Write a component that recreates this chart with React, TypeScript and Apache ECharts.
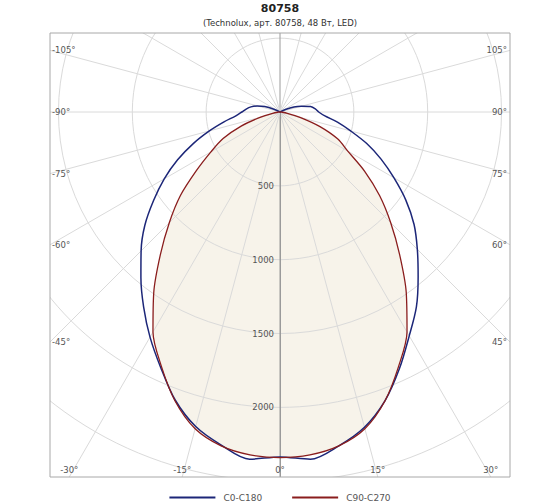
import { useEffect, useRef } from 'react'
import * as echarts from 'echarts'

// углы (градусы) и силы света (кд) по двум плоскостям
const ANGLES = [
  -120, -115, -110, -105, -100, -95, -90, -85, -80, -75, -70, -65, -60, -55, -50, -45, -40, -35, -30, -25, -20, -15, -10, -5,
  0, 5, 10, 15, 20, 25, 30, 35, 40, 45, 50, 55, 60, 65, 70, 75, 80, 85, 90, 95, 100, 105, 110, 115, 120,
]
const C0_C180 = [
  0, 45, 110, 160, 200, 230, 258, 300, 385, 495, 625, 765, 905, 1045, 1195, 1330, 1465, 1610, 1760, 1910, 2075, 2205, 2290, 2360,
  2335, 2360, 2295, 2210, 2080, 1915, 1750, 1610, 1455, 1315, 1185, 1040, 890, 755, 625, 495, 395, 305, 262, 240, 210, 150, 100, 40, 0,
]
const C90_C270 = [
  0, 0, 0, 0, 0, 0, 0, 12, 50, 140, 280, 425, 540, 690, 880, 1060, 1260, 1490, 1720, 1900, 2080, 2220, 2295, 2330,
  2340, 2330, 2295, 2220, 2080, 1900, 1720, 1490, 1260, 1060, 880, 700, 530, 430, 285, 140, 50, 12, 0, 0, 0, 0, 0, 0, 0,
]
const RADIUS_LABELS = [500, 1000, 1500, 2000]
const ANGLE_LABELS = [-105, -90, -75, -60, -45, -30, -15, 0, 15, 30, 45, 60, 75, 90, 105]
const SERIES_NAMES = ['C0-C180', 'C90-C270']

const CX = 280
const CY = 112
const BOX = { left: 50, top: 33, right: 510, bottom: 477 }
const PX_PER_CD = 0.1477
const R_MAX = 3000
const FONT = 'DejaVu Sans'
const LIGHT = '#dadada'
const DARK = '#9a9a9a'

// подпись угла там, где луч упирается в рамку
function angleLabel(a: number) {
  const rad = (a * Math.PI) / 180
  const sx = Math.sin(rad)
  const sy = Math.cos(rad)
  const tx = sx > 0 ? (BOX.right - CX) / sx : sx < 0 ? (BOX.left - CX) / sx : Infinity
  const ty = sy > 0 ? (BOX.bottom - CY) / sy : sy < 0 ? (BOX.top - CY) / sy : Infinity
  const base = { type: 'text', z: 52, silent: true }
  const text = `${a}°`
  const st = { fontSize: 8.5, fontFamily: FONT, fill: '#555' }
  if (ty <= tx) {
    return { ...base, x: CX + ty * sx, y: BOX.bottom - 7, style: { ...st, text, align: 'center', verticalAlign: 'middle' } }
  }
  const y = CY + tx * sy
  if (sx < 0) return { ...base, x: BOX.left + 2, y, style: { ...st, text, align: 'left', verticalAlign: 'middle' } }
  return { ...base, x: BOX.right - 3, y, style: { ...st, text, align: 'right', verticalAlign: 'middle' } }
}

export default function App() {
  const ref = useRef<HTMLDivElement>(null)

  useEffect(() => {
    if (!ref.current) return
    const chart = echarts.init(ref.current, undefined, { renderer: 'svg' })
    const toAxis = (a: number) => (a + 360) % 360
    const blue = ANGLES.map((a, i) => [C0_C180[i], toAxis(a)])
    const red = ANGLES.map((a, i) => [C90_C270[i], toAxis(a)])
    // вертикаль (0° и 180°) темнее остальных лучей
    const rayColors = [DARK, LIGHT, LIGHT, LIGHT, LIGHT, LIGHT, LIGHT, LIGHT, LIGHT, LIGHT, LIGHT, LIGHT]

    const masks = [
      { x: 0, y: 0, width: 560, height: BOX.top },
      { x: 0, y: BOX.bottom, width: 560, height: 504 - BOX.bottom },
      { x: 0, y: BOX.top, width: BOX.left, height: BOX.bottom - BOX.top },
      { x: BOX.right, y: BOX.top, width: 560 - BOX.right, height: BOX.bottom - BOX.top },
    ].map((shape) => ({ type: 'rect', shape, style: { fill: '#fff' }, z: 50, silent: true }))

    chart.setOption({
      animation: false,
      backgroundColor: '#fff',
      title: {
        text: '80758',
        subtext: '(Technolux, арт. 80758, 48 Вт, LED)',
        left: 'center',
        top: -2,
        itemGap: 4,
        textStyle: { fontSize: 11, fontWeight: 'bold', color: '#222', fontFamily: FONT },
        subtextStyle: { fontSize: 8.5, color: '#333', fontFamily: FONT },
        z: 60,
      },
      legend: {
        data: SERIES_NAMES,
        left: 'center',
        bottom: -3,
        icon: 'rect',
        itemWidth: 46,
        itemHeight: 2,
        itemGap: 30,
        textStyle: { fontSize: 9, color: '#555', fontFamily: FONT, padding: [0, 0, 0, 3] },
        z: 60,
      },
      polar: { center: [CX, CY], radius: R_MAX * PX_PER_CD },
      angleAxis: {
        type: 'value',
        min: 0,
        max: 360,
        interval: 15,
        startAngle: 270,
        clockwise: false,
        z: 1,
        axisLine: { show: false },
        axisTick: { show: false },
        axisLabel: { show: false },
        splitLine: { show: true, lineStyle: { color: rayColors, width: 1 } },
      },
      radiusAxis: {
        type: 'value',
        min: 0,
        max: R_MAX,
        interval: 500,
        z: 1,
        axisLine: { show: true, lineStyle: { color: DARK, width: 1 } },
        axisTick: { show: false },
        axisLabel: {
          fontSize: 8.5,
          color: '#555',
          fontFamily: FONT,
          margin: -6,
          align: 'right',
          formatter: (v: number) => (RADIUS_LABELS.includes(v) ? String(v) : ''),
        },
        splitLine: { show: true, lineStyle: { color: LIGHT, width: 1 } },
      },
      series: [
        {
          name: 'fill',
          type: 'line',
          coordinateSystem: 'polar',
          data: red,
          symbol: 'none',
          smooth: 0.3,
          silent: true,
          lineStyle: { width: 0 },
          areaStyle: { color: '#f7f3ea', opacity: 1 },
          z: 0,
        },
        {
          name: SERIES_NAMES[0],
          type: 'line',
          coordinateSystem: 'polar',
          data: blue,
          symbol: 'none',
          smooth: 0.3,
          color: '#1c2678',
          lineStyle: { width: 1.5, color: '#1c2678' },
          z: 3,
        },
        {
          name: SERIES_NAMES[1],
          type: 'line',
          coordinateSystem: 'polar',
          data: red,
          symbol: 'none',
          smooth: 0.3,
          color: '#8a1d1d',
          lineStyle: { width: 1.3, color: '#8a1d1d' },
          z: 4,
        },
      ],
      graphic: [
        ...masks,
        {
          type: 'rect',
          shape: { x: BOX.left, y: BOX.top, width: BOX.right - BOX.left, height: BOX.bottom - BOX.top },
          style: { fill: 'none', stroke: '#a8a8a8', lineWidth: 1 },
          z: 51,
          silent: true,
        },
        ...ANGLE_LABELS.map(angleLabel),
      ],
    })

    return () => chart.dispose()
  }, [])

  return <div ref={ref} style={{ position: 'fixed', left: 0, top: 0, width: 560, height: 504 }} />
}
